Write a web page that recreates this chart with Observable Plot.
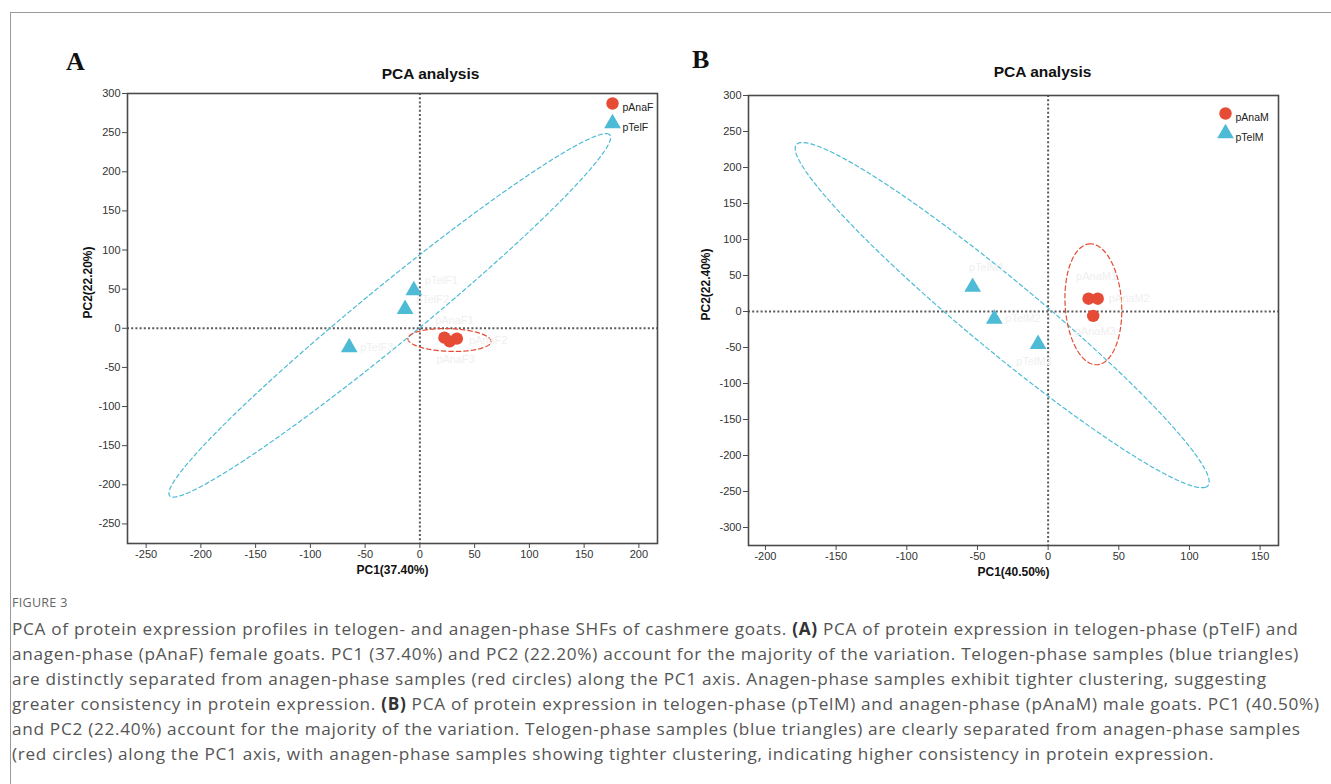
<!DOCTYPE html>
<html>
<head>
<meta charset="utf-8">
<script src="https://cdn.jsdelivr.net/npm/d3@7"></script>
<script src="https://cdn.jsdelivr.net/npm/@observablehq/plot@0.6"></script>
<style>
  html, body { margin: 0; padding: 0; background: #fff; }
  body { width: 1331px; height: 784px; position: relative; overflow: hidden; }
  #frame { position: absolute; left: 10px; top: 12px; width: 1400px; height: 900px;
           border-left: 1px solid #9a9a9a; border-top: 1px solid #9a9a9a; }
  .panel { position: absolute; top: 0; }
  .letter { position: absolute; font-family: "Liberation Serif", "DejaVu Serif", serif;
            font-weight: bold; font-size: 26px; color: #111; line-height: 1; }
  #caption { position: absolute; left: 12px; top: 594px; font-family: "Open Sans", "Noto Sans", sans-serif;
             color: #555; white-space: nowrap; }
  #caption .fig { font-size: 12.5px; letter-spacing: 0.3px; color: #666; margin-bottom: 5px; }
  #caption .line { font-size: 17.2px; letter-spacing: 0.7px; line-height: 25px; }
  #caption b { font-weight: 700; color: #333; }
</style>
</head>
<body>
<div id="frame"></div>
<div id="A" class="panel" style="left:0px"></div>
<div id="B" class="panel" style="left:670px"></div>
<div class="letter" style="left:66px; top:49px">A</div>
<div class="letter" style="left:692px; top:47px">B</div>
<div id="caption">
  <div class="fig">FIGURE 3</div>
  <div class="line">PCA of protein expression profiles in telogen- and anagen-phase SHFs of cashmere goats. <b>(A)</b> PCA of protein expression in telogen-phase (pTelF) and</div>
  <div class="line">anagen-phase (pAnaF) female goats. PC1 (37.40%) and PC2 (22.20%) account for the majority of the variation. Telogen-phase samples (blue triangles)</div>
  <div class="line">are distinctly separated from anagen-phase samples (red circles) along the PC1 axis. Anagen-phase samples exhibit tighter clustering, suggesting</div>
  <div class="line">greater consistency in protein expression. <b>(B)</b> PCA of protein expression in telogen-phase (pTelM) and anagen-phase (pAnaM) male goats. PC1 (40.50%)</div>
  <div class="line">and PC2 (22.40%) account for the majority of the variation. Telogen-phase samples (blue triangles) are clearly separated from anagen-phase samples</div>
  <div class="line">(red circles) along the PC1 axis, with anagen-phase samples showing tighter clustering, indicating higher consistency in protein expression.</div>
</div>
<script>
// ---------------- DATA ----------------
// Panel A (female)
const groupsA = ["pAnaF", "pTelF"];
const anaF_names = ["pAnaF1", "pAnaF2", "pAnaF3"];
const anaF_pc1 = [22.4, 33.8, 27.2];
const anaF_pc2 = [-12.0, -13.2, -16.7];
const telF_names = ["pTelF1", "pTelF2", "pTelF3"];
const telF_pc1 = [-5.5, -13.5, -64.5];
const telF_pc2 = [48.5, 24.5, -24.5];
// ellipses: [centre pc1, centre pc2, semi-major, semi-minor, angle deg]
const ellAnaF = [27, -15, 38, 14.5, -3];
const ellTelF = [-27.5, 16.5, 306, 31, 49.1];
const xTicksA = [-250, -200, -150, -100, -50, 0, 50, 100, 150, 200];
const yTicksA = [-250, -200, -150, -100, -50, 0, 50, 100, 150, 200, 250, 300];
const xDomainA = [-267, 217];
const yDomainA = [-275, 300];
const xLabelA = "PC1(37.40%)";
const yLabelA = "PC2(22.20%)";

// Panel B (male)
const groupsB = ["pAnaM", "pTelM"];
const anaM_names = ["pAnaM1", "pAnaM2", "pAnaM3"];
const anaM_pc1 = [28.6, 35.1, 31.9];
const anaM_pc2 = [17.8, 17.8, -6.1];
const telM_names = ["pTelM1", "pTelM2", "pTelM3"];
const telM_pc1 = [-53.4, -38.1, -7.1];
const telM_pc2 = [34.0, -10.3, -45.3];
const ellAnaM = [32, 10, 84, 20, 91.5];
const ellTelM = [-32.5, -5, 279, 33, -59];
const xTicksB = [-200, -150, -100, -50, 0, 50, 100, 150];
const yTicksB = [-300, -250, -200, -150, -100, -50, 0, 50, 100, 150, 200, 250, 300];
const xDomainB = [-212, 163];
const yDomainB = [-325, 300];
const xLabelB = "PC1(40.50%)";
const yLabelB = "PC2(22.40%)";

const title = "PCA analysis";
const RED = "#E64B35", BLUE = "#4DBBD5";

// ---------------- HELPERS ----------------
function pts(names, xs, ys, group) {
  return xs.map((x, i) => ({ x, y: ys[i], name: names[i], group, i }));
}
function ellipse(e, group) {
  const [cx, cy, a, b, ang] = e;
  const th = ang * Math.PI / 180, n = 240;
  return d3.range(n + 1).map(i => {
    const t = 2 * Math.PI * i / n, c = Math.cos(t), s = Math.sin(t);
    return { x: cx + a * c * Math.cos(th) - b * s * Math.sin(th),
             y: cy + a * c * Math.sin(th) + b * s * Math.cos(th), group };
  });
}

function panel(o) {
  const ana = pts(o.anaNames, o.anaX, o.anaY, o.groups[0]);
  const tel = pts(o.telNames, o.telX, o.telY, o.groups[1]);
  const axisColor = "#4a4a4a";
  const faint = "#efefef";
  const fmt = d => String(d);
  const labelMarks = (data, place) => place.map(([dx, dy, anchor], i) =>
    Plot.text(data.filter(d => d.i === i), { x: "x", y: "y", text: "name", dx, dy, textAnchor: anchor, fill: faint, fontSize: 11 }));
  return Plot.plot({
    width: o.width, height: o.height,
    marginLeft: o.ml, marginRight: o.mr, marginTop: o.mt, marginBottom: o.mb,
    style: { fontFamily: "'Liberation Sans', Arial, sans-serif", fontSize: "11px", color: "#333", background: "transparent", overflow: "visible" },
    x: { domain: o.xDomain },
    y: { domain: o.yDomain },
    marks: [
      Plot.ruleX([0], { stroke: "#5a5a5a", strokeWidth: 2, strokeDasharray: "2,2.2" }),
      Plot.ruleY([0], { stroke: "#5a5a5a", strokeWidth: 2, strokeDasharray: "2,2.2" }),
      Plot.line(ellipse(o.ellTel, o.groups[1]), { x: "x", y: "y", stroke: BLUE, strokeWidth: 1.2, strokeDasharray: "4,3" }),
      Plot.line(ellipse(o.ellAna, o.groups[0]), { x: "x", y: "y", stroke: RED, strokeWidth: 1.2, strokeDasharray: "4.5,3" }),
      // faint sample labels (almost white in the reference)
      ...labelMarks(tel, o.telPlace),
      ...labelMarks(ana, o.anaPlace),
      Plot.dot(tel, { x: "x", y: "y", symbol: "triangle", r: 6.2, fill: BLUE, stroke: "none" }),
      Plot.dot(ana, { x: "x", y: "y", symbol: "circle", r: 6.2, fill: RED, stroke: "none" }),
      // legend
      Plot.dot([o.groups[0]], { frameAnchor: "top-right", dx: o.legDx, dy: o.legDy, r: 6.2, fill: RED, symbol: "circle" }),
      Plot.dot([o.groups[1]], { frameAnchor: "top-right", dx: o.legDx, dy: o.legDy + 20, r: 6.2, fill: BLUE, symbol: "triangle" }),
      Plot.text([o.groups[0]], { frameAnchor: "top-right", dx: o.legDx + 10, dy: o.legDy, text: d => d, textAnchor: "start", fontSize: 10.5, fill: "#222" }),
      Plot.text([o.groups[1]], { frameAnchor: "top-right", dx: o.legDx + 10, dy: o.legDy + 20, text: d => d, textAnchor: "start", fontSize: 10.5, fill: "#222" }),
      // frame + axes
      Plot.frame({ stroke: axisColor, strokeWidth: 1.6 }),
      Plot.axisX(o.xTicks, { tickSize: 5, tickPadding: 2, stroke: axisColor, fill: "#333", fontSize: 11, label: null, tickFormat: fmt }),
      Plot.axisY(o.yTicks, { tickSize: 5, tickPadding: 2, stroke: axisColor, fill: "#333", fontSize: 11, label: null, tickFormat: fmt }),
      // title and axis labels
      Plot.text([title], { frameAnchor: "top", dx: o.titleDx, dy: o.titleDy, text: d => d, fontWeight: "bold", fontSize: 15.5, fill: "#111" }),
      Plot.text([o.xLabel], { frameAnchor: "bottom", dy: 30, text: d => d, fontWeight: "bold", fontSize: 12, fill: "#111" }),
      Plot.text([o.yLabel], { frameAnchor: "left", dx: o.yLabelDx, rotate: -90, text: d => d, fontWeight: "bold", fontSize: 12, fill: "#111" })
    ]
  });
}

document.getElementById("A").append(panel({
  groups: groupsA,
  anaNames: anaF_names, anaX: anaF_pc1, anaY: anaF_pc2,
  telNames: telF_names, telX: telF_pc1, telY: telF_pc2,
  ellAna: ellAnaF, ellTel: ellTelF,
  xTicks: xTicksA, yTicks: yTicksA, xDomain: xDomainA, yDomain: yDomainA,
  xLabel: xLabelA, yLabel: yLabelA,
  width: 670, height: 590, ml: 127, mr: 13, mt: 93, mb: 47,
  titleDx: 38, titleDy: -26, yLabelDx: -39, legDx: -45, legDy: 10,
  telPlace: [[11, -10, "start"], [11, -10, "start"], [11, 0, "start"]],
  anaPlace: [[10, -17, "middle"], [12, 2, "start"], [6, 18, "middle"]]
}));

document.getElementById("B").append(panel({
  groups: groupsB,
  anaNames: anaM_names, anaX: anaM_pc1, anaY: anaM_pc2,
  telNames: telM_names, telX: telM_pc1, telY: telM_pc2,
  ellAna: ellAnaM, ellTel: ellTelM,
  xTicks: xTicksB, yTicks: yTicksB, xDomain: xDomainB, yDomain: yDomainB,
  xLabel: xLabelB, yLabel: yLabelB,
  width: 661, height: 590, ml: 78, mr: 53, mt: 95, mb: 45,
  titleDx: 29, titleDy: -30, yLabelDx: -42, legDx: -53, legDy: 18,
  telPlace: [[14, -20, "middle"], [11, 0, "start"], [-4, 17, "middle"]],
  anaPlace: [[8, -22, "middle"], [11, 0, "start"], [2, 16, "middle"]]
}));
</script>
</body>
</html>
